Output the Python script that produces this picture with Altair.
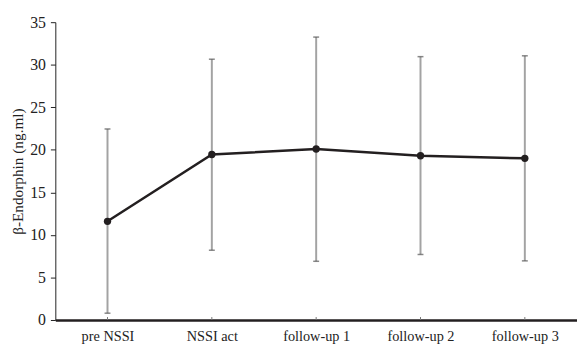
import altair as alt
import pandas as pd

categories = ["pre NSSI", "NSSI act", "follow-up 1", "follow-up 2", "follow-up 3"]
means = [11.6, 19.45, 20.1, 19.3, 19.0]
upper = [22.45, 30.65, 33.25, 30.95, 31.05]
lower = [0.8, 8.2, 6.9, 7.7, 6.95]

df = pd.DataFrame({"cat": categories, "mean": means, "hi": upper, "lo": lower})

FONT = "Liberation Serif"
W, H = 529, 302

xaxis = alt.Axis(title=None, labelAngle=0, labelFont=FONT, labelFontSize=14.5,
                 labelColor="#222", labelPadding=10, ticks=False,
                 domainColor="#231f20", domainWidth=2.5)
xscale = alt.Scale(type="point", padding=0.5)
def X():
    return alt.X("cat:N", sort=categories, scale=xscale, axis=xaxis)

yscale = alt.Scale(domain=[0, 35], nice=False)
yaxis = alt.Axis(title="β-Endorphin (ng.ml)", values=list(range(0, 36, 5)),
                 titleFont=FONT, titleFontSize=15.5, titleFontWeight="normal",
                 titleColor="#222", titlePadding=4,
                 labelFont=FONT, labelFontSize=16, labelColor="#222", labelPadding=5,
                 tickSize=5, tickColor="#222", domainColor="#222", domainWidth=1,
                 grid=False)
def Y(f):
    return alt.Y(f"{f}:Q", scale=yscale, axis=yaxis)

base = alt.Chart(df)

xticks = base.mark_rule(color="#777", strokeWidth=1).encode(
    x=X(), y=alt.value(H), y2=alt.value(H - 3))

err = base.mark_rule(color="#a3a3a3", strokeWidth=2).encode(
    x=X(), y=Y("lo"), y2="hi:Q")
cap_hi = base.mark_tick(orient="horizontal", size=6, thickness=1.5, color="#555").encode(
    x=X(), y=Y("hi"))
cap_lo = base.mark_tick(orient="horizontal", size=6, thickness=1.5, color="#555").encode(
    x=X(), y=Y("lo"))

line = base.mark_line(color="#231f20", strokeWidth=2.5).encode(x=X(), y=Y("mean"))
pts = base.mark_circle(color="#231f20", size=55, opacity=1).encode(x=X(), y=Y("mean"))

chart = alt.layer(line, err, cap_hi, cap_lo, xticks, pts).properties(
    width=W, height=H,
    autosize=alt.AutoSizeParams(type="none"),
    padding={"left": 48, "top": 12, "right": 0, "bottom": 26},
    background="white",
).configure_view(stroke=None)

chart.save("out.html", embed_options={"renderer": "svg", "actions": False})
